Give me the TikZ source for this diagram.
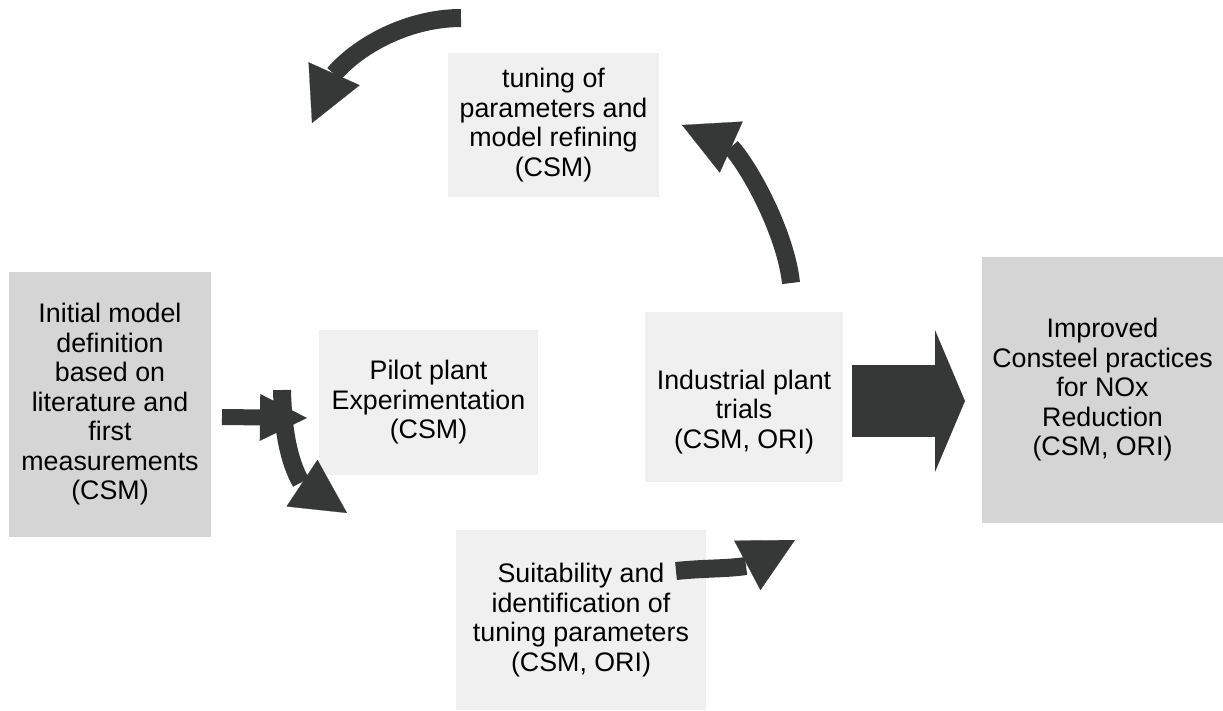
\documentclass[tikz,border=0pt]{standalone}
\usepackage{fontspec}
\setmainfont{Liberation Sans}
\usetikzlibrary{positioning,arrows.meta}
\definecolor{boxlight}{RGB}{239,240,239}
\definecolor{boxdark}{RGB}{213,213,213}
\definecolor{arrowdark}{RGB}{54,56,55}

\begin{document}
\begin{tikzpicture}[x=0.5pt,y=-0.5pt,
    every node/.style={align=center,inner sep=0pt,font=\fontsize{13.4}{14.75}\selectfont},
    lightbox/.style={fill=boxlight},
    darkbox/.style={fill=boxdark},
    shaft/.style={draw=arrowdark,line width=9pt},
    head/.style={draw=arrowdark,line width=0.1pt,-{Triangle[length=27pt,width=28pt]}},
    fatarrow/.style={draw=arrowdark,line width=9pt,-{Triangle[length=27pt,width=28pt,line width=0pt]}}]
    \useasboundingbox (0,0) rectangle (1223,711);
    % boxes
    \node[darkbox,minimum width=101pt,minimum height=132.5pt] (init) at (110,404.5)
        {Initial model\\definition\\based on\\literature and\\first\\measurements\\(CSM)};
    \node[lightbox,minimum width=109.5pt,minimum height=72.5pt] (pilot) at (428.5,402.5)
        {Pilot plant\\Experimentation\\(CSM)};
    \node[lightbox,minimum width=105.5pt,minimum height=72pt] (tuning) at (553.5,125)
        {tuning of\\parameters and\\model refining\\(CSM)};
    \node[lightbox,minimum width=99pt,minimum height=85pt,
          label={[yshift=-7.5pt]center:{Industrial plant\\trials\\(CSM, ORI)}}] (industrial) at (744,397) {};
    \node[lightbox,minimum width=125pt,minimum height=90pt] (suitability) at (581,620)
        {Suitability and\\identification of\\tuning parameters\\(CSM, ORI)};
    \node[darkbox,minimum width=120.5pt,minimum height=133pt] (improved) at (1102.5,390)
        {Improved\\Consteel practices\\for NOx\\Reduction\\(CSM, ORI)};
    % arrow ends (tail, back of head, tip)
    \coordinate (init-a) at (222,417);
    \coordinate (pilot-a) at (307,418);
    \coordinate (init-b) at (282,390);
    \coordinate (suit-h) at (301,482.5);
    \coordinate (suit-a) at (347,513);
    \coordinate (suit-b) at (676,571);
    \coordinate (ind-h) at (746,566);
    \coordinate (ind-a) at (795,540);
    \coordinate (ind-b) at (791,283);
    \coordinate (tun-h) at (731,147);
    \coordinate (tun-a) at (682,125);
    \coordinate (tun-b) at (461,18);
    \coordinate (init-h) at (334,74);
    \coordinate (init-c) at (312,123);
    \coordinate (ind-c) at (852,401);
    \coordinate (imp-a) at (965,401);
    % arrows
    \draw[fatarrow,line width=8pt,-{Triangle[length=23.5pt,width=23.5pt,line width=0pt]}] (init-a) -- (pilot-a);
    \draw[shaft] (init-b) .. controls (283,430) and (288.5,460.5) .. (suit-h);
    \draw[head] (suit-h) -- (suit-a);
    \draw[shaft] (suit-b) .. controls (705,568) and (726,569) .. (ind-h);
    \draw[head] (ind-h) -- (ind-a);
    \draw[shaft] (ind-b) .. controls (786,235) and (751,169) .. (tun-h);
    \draw[head] (tun-h) -- (tun-a);
    \draw[shaft] (tun-b) .. controls (410,18) and (360,44) .. (init-h);
    \draw[head] (init-h) -- (init-c);
    \draw[fatarrow,line width=36pt,-{Triangle[length=15pt,width=71pt,line width=0pt]}] (ind-c) -- (imp-a);
\end{tikzpicture}
\end{document}
